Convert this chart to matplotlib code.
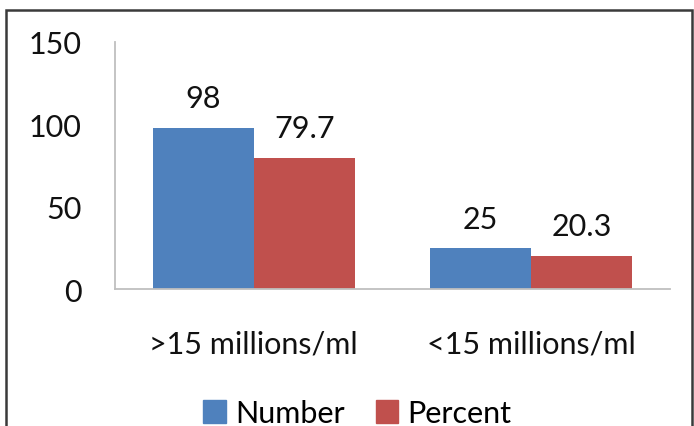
import numpy as np
import matplotlib
matplotlib.use("Agg")
import matplotlib.pyplot as plt
from matplotlib.patches import Rectangle, Patch

categories = [">15 millions/ml", "<15 millions/ml"]
number = [98, 25]
percent = [79.7, 20.3]
series_names = ["Number", "Percent"]
yticks = [0, 50, 100, 150]

BLUE = "#4F81BD"
RED = "#C0504D"
FS = 22

plt.rcParams["font.family"] = ["Lato", "DejaVu Sans"]

fig = plt.figure(figsize=(6.94, 4.27), dpi=100)
ax = fig.add_axes([0.1657, 0.3208, 0.7997, 0.5785])

x = np.arange(len(categories))
w = 0.364
b1 = ax.bar(x - w / 2, number, w, color=BLUE, label=series_names[0])
b2 = ax.bar(x + w / 2, percent, w, color=RED, label=series_names[1])

for bars, vals in ((b1, number), (b2, percent)):
    for rect, v in zip(bars, vals):
        ax.annotate(f"{v:g}", (rect.get_x() + rect.get_width() / 2, v),
                    xytext=(0, 11), textcoords="offset points",
                    ha="center", va="bottom", fontsize=FS, color="#111111")

ax.set_xlim(-0.5, len(categories) - 0.5)
ax.set_ylim(0, 150)
ax.set_yticks(yticks)
ax.set_xticks(x)
ax.set_xticklabels(categories)
ax.tick_params(axis="both", length=0, labelsize=FS, colors="#111111")
ax.tick_params(axis="y", pad=24)
ax.tick_params(axis="x", pad=29)

for side in ("top", "right"):
    ax.spines[side].set_visible(False)
for side in ("left", "bottom"):
    ax.spines[side].set_color("#BFBFBF")
    ax.spines[side].set_linewidth(1.3)

handles = [Patch(color=BLUE), Patch(color=RED)]
fig.legend(handles, series_names, loc="center", bbox_to_anchor=(0.515, 0.03),
           ncol=2, frameon=False, fontsize=FS, handlelength=0.75,
           handleheight=0.75, handletextpad=0.3, columnspacing=1.0)

# outer chart frame
fig.patches.append(Rectangle((6 / 694, -0.1), 686 / 694, 1.1 - 11 / 427,
                             transform=fig.transFigure, fill=False,
                             edgecolor="#3A3A3A", linewidth=1.8))

fig.savefig("out.png", dpi=100)
